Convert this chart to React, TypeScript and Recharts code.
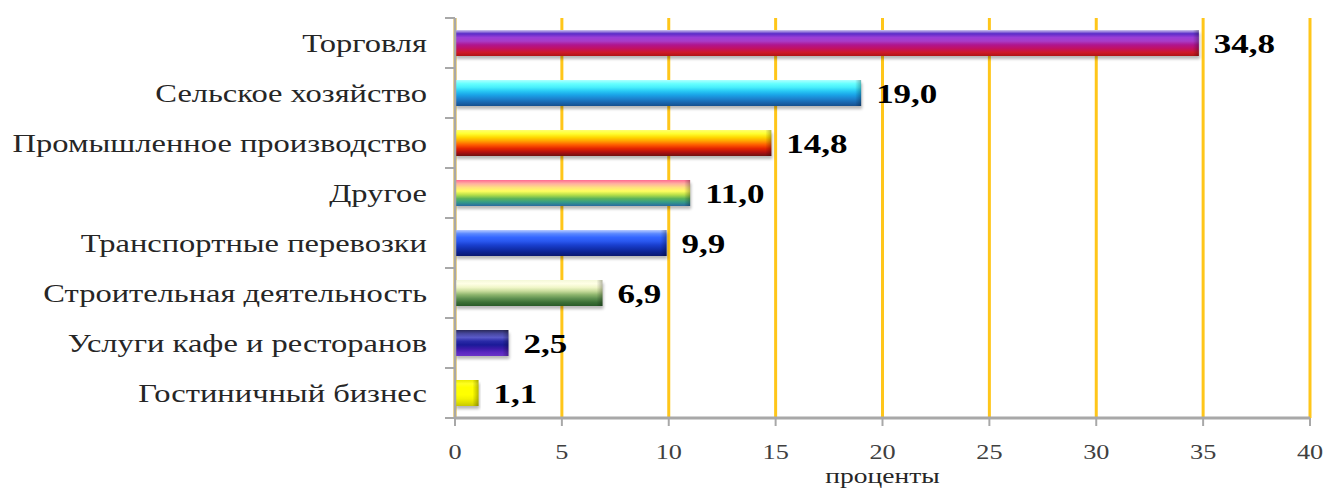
import React from 'react';
import { BarChart, Bar, XAxis, YAxis, CartesianGrid, LabelList, Label } from 'recharts';

const categories = [
  'Торговля',
  'Сельское хозяйство',
  'Промышленное производство',
  'Другое',
  'Транспортные перевозки',
  'Строительная деятельность',
  'Услуги кафе и ресторанов',
  'Гостиничный бизнес',
];
const values = [34.8, 19.0, 14.8, 11.0, 9.9, 6.9, 2.5, 1.1];
const xTicks = [0, 5, 10, 15, 20, 25, 30, 35, 40];
const axisTitle = 'проценты';

const barColors: string[][] = [
  ['#cfc8ee', '#5a2cc8', '#9a3ed6', '#a83cc8', '#b0158e', '#c21062', '#cf1a2a', '#b01414'],
  ['#b0ffff', '#66ffff', '#48eefc', '#28c8f4', '#1aa4e8', '#1c84d0', '#1a68b0', '#16508e'],
  ['#ffff70', '#ffff30', '#ffd800', '#ffa000', '#ff5a00', '#e42400', '#b01010', '#6e1010'],
  ['#ff6a92', '#ffb0a0', '#ffe080', '#ffff60', '#b8e048', '#5cb45c', '#349a88', '#2a6aa0'],
  ['#b8ccff', '#5a88ff', '#3366ff', '#2a58f0', '#1a40d0', '#1230b0', '#0c2290', '#0a1870'],
  ['#f4f8d8', '#ffffe6', '#f0f6c8', '#c8dc9c', '#8cb46c', '#5e9050', '#3c7036', '#285a28'],
  ['#2a2a5a', '#4848a0', '#5a5ac8', '#2a2aa8', '#1a1a98', '#3a1aa8', '#5a28c0', '#6a34c8'],
  ['#e8e800', '#ffff20', '#ffff00', '#ffff00', '#ffff00', '#f4f400', '#e0e000', '#c8c800'],
];

const data = categories.map((name, i) => ({ name, value: values[i], idx: i }));

const W = 1327;
const H = 490;
const MARGIN = { top: 18, right: 17, bottom: 0, left: 0 };
const Y_AXIS_W = 455;
const X_AXIS_H = 72;
const PLOT_H = H - MARGIN.top - MARGIN.bottom - X_AXIS_H;
const BAND = PLOT_H / categories.length;
const AXIS_COLOR = '#A8A8A8';
const GRID_COLOR = '#FFC61A';
const FONT = '"Liberation Serif", "Times New Roman", serif';
const STRETCH = 1.25;

const fmt = (v: number) => v.toFixed(1).replace('.', ',');

const BarShape = (props: any) => {
  const { x, y, width, height } = props;
  const idx = props.payload?.idx ?? props.index ?? 0;
  if (!width || width <= 0) return null;
  return (
    <g>
      <rect x={x + 1} y={y + 3} width={width} height={height} fill="#000" opacity={0.28} filter="url(#barShadow)" />
      <rect x={x} y={y} width={width} height={height} fill={`url(#barGrad${idx})`} />
      <rect x={x + width - Math.min(6, width / 3)} y={y} width={Math.min(6, width / 3)} height={height} fill="url(#endCap)" />
    </g>
  );
};

const YTick = (props: any) => {
  const { x, y, payload } = props;
  const i = categories.indexOf(payload.value);
  const half = BAND / 2;
  return (
    <g>
      <line x1={x - 10} x2={x} y1={y - half} y2={y - half} stroke={AXIS_COLOR} strokeWidth={2} />
      {i === categories.length - 1 && (
        <line x1={x - 10} x2={x} y1={y + half} y2={y + half} stroke={AXIS_COLOR} strokeWidth={2} />
      )}
      <g transform={`translate(${x - 28},${y})`}>
        <text transform={`scale(${STRETCH},1)`} textAnchor="end" dy="0.35em" fontSize={26} fill="#262626" fontFamily={FONT}>
          {payload.value}
        </text>
      </g>
    </g>
  );
};

const XTick = (props: any) => {
  const { x, y, payload } = props;
  return (
    <g transform={`translate(${x},${y})`}>
      <text transform={`scale(${STRETCH},1)`} textAnchor="middle" dy="0.71em" fontSize={21} fill="#404040" fontFamily={FONT}>
        {payload.value}
      </text>
    </g>
  );
};

const AxisTitle = (props: any) => {
  const vb = props.viewBox || {};
  const cx = vb.x + vb.width / 2;
  return (
    <g transform={`translate(${cx},${vb.y + 65})`}>
      <text transform={`scale(${STRETCH},1)`} textAnchor="middle" fontSize={22} fill="#262626" fontFamily={FONT}>
        {axisTitle}
      </text>
    </g>
  );
};

const ValueLabel = (props: any) => {
  const { x, y, width, height, value } = props;
  const tx = x + width + 15;
  const ty = y + height / 2;
  return (
    <g transform={`translate(${tx},${ty})`}>
      <text transform={`scale(${STRETCH},1)`} dy="0.36em" fontSize={28} fontWeight="bold" fill="#000" fontFamily={FONT}>
        {fmt(Number(value))}
      </text>
    </g>
  );
};

export default function App() {
  return (
    <div style={{ width: W, height: H, background: '#fff' }}>
      <style>{`body{margin:0;}`}</style>
      <BarChart width={W} height={H} data={data} layout="vertical" margin={MARGIN}>
        <defs>
          {barColors.map((cols, i) => (
            <linearGradient key={i} id={`barGrad${i}`} x1="0" y1="0" x2="0" y2="1">
              {cols.map((c, j) => (
                <stop key={j} offset={`${(j / (cols.length - 1)) * 100}%`} stopColor={c} />
              ))}
            </linearGradient>
          ))}
          <linearGradient id="endCap" x1="0" y1="0" x2="1" y2="0">
            <stop offset="0%" stopColor="#000" stopOpacity={0} />
            <stop offset="100%" stopColor="#000" stopOpacity={0.28} />
          </linearGradient>
          <filter id="barShadow" x="-5%" y="-60%" width="110%" height="220%">
            <feGaussianBlur stdDeviation="1.6" />
          </filter>
        </defs>
        <CartesianGrid horizontal={false} vertical stroke={GRID_COLOR} strokeWidth={3} />
        <XAxis
          type="number"
          domain={[0, 40]}
          ticks={xTicks}
          interval={0}
          height={X_AXIS_H}
          axisLine={{ stroke: AXIS_COLOR, strokeWidth: 3 }}
          tickLine={{ stroke: AXIS_COLOR, strokeWidth: 2 }}
          tickSize={8}
          tickMargin={18}
          tick={<XTick />}
        >
          <Label content={<AxisTitle />} />
        </XAxis>
        <YAxis
          type="category"
          dataKey="name"
          width={Y_AXIS_W}
          axisLine={{ stroke: AXIS_COLOR, strokeWidth: 2.5 }}
          tickLine={false}
          tickSize={0}
          tickMargin={0}
          interval={0}
          tick={<YTick />}
        />
        <Bar dataKey="value" barSize={26} shape={<BarShape />} isAnimationActive={false}>
          <LabelList dataKey="value" content={<ValueLabel />} />
        </Bar>
      </BarChart>
    </div>
  );
}
